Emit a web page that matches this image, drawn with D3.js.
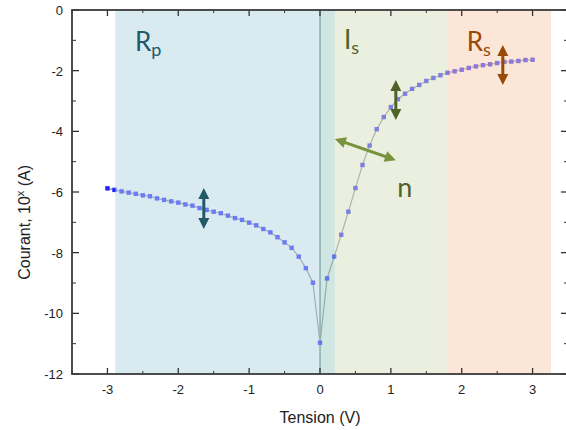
<!DOCTYPE html>
<html><head><meta charset="utf-8">
<script src="https://cdn.jsdelivr.net/npm/d3@7"></script>
<style>body{margin:0;background:#fff}svg{display:block}</style>
</head><body>
<svg id="c" width="566" height="430"></svg>
<script>
// ---- data ----
const tension = [-3.0,-2.9,-2.8,-2.7,-2.6,-2.5,-2.4,-2.3,-2.2,-2.1,-2.0,-1.9,-1.8,-1.7,-1.6,-1.5,-1.4,-1.3,-1.2,-1.1,-1.0,-0.9,-0.8,-0.7,-0.6,-0.5,-0.4,-0.3,-0.2,-0.1,0.0,0.1,0.2,0.3,0.4,0.5,0.6,0.7,0.8,0.9,1.0,1.1,1.2,1.3,1.4,1.5,1.6,1.7,1.8,1.9,2.0,2.1,2.2,2.3,2.4,2.5,2.6,2.7,2.8,2.9,3.0];
const courant = [-5.88,-5.93,-5.98,-6.02,-6.06,-6.11,-6.14,-6.21,-6.26,-6.31,-6.35,-6.41,-6.45,-6.53,-6.59,-6.65,-6.70,-6.78,-6.86,-6.92,-7.01,-7.10,-7.22,-7.33,-7.49,-7.66,-7.84,-8.13,-8.51,-8.99,-10.97,-8.85,-8.13,-7.41,-6.65,-5.87,-5.11,-4.47,-3.93,-3.53,-3.20,-2.94,-2.76,-2.60,-2.47,-2.34,-2.24,-2.15,-2.07,-2.02,-1.97,-1.91,-1.86,-1.82,-1.79,-1.75,-1.71,-1.70,-1.68,-1.65,-1.64];
const xTicks = [-3,-2,-1,0,1,2,3];
const yTicks = [0,-2,-4,-6,-8,-10,-12];
const regionNames = ["Rp","overlap","Is","Rs"];
const regionStart = [-2.89, 0.0, 0.21, 1.79];
const regionEnd   = [0.0, 0.21, 1.79, 3.26];

// ---- layout ----
const svg = d3.select("#c");
const L = 72, R = 568, T = 10, B = 374;
const x = d3.scaleLinear().domain([-3.5,3.5]).range([L,R]);
const y = d3.scaleLinear().domain([0,-12]).range([T,B]);

const regionColor = {Rp:"#b5d5e3", overlap:"#a1cdc7", Is:"#d7dfbf", Rs:"#f9cdb1"};

// zero line
svg.append("line").attr("x1",x(0)).attr("x2",x(0)).attr("y1",T).attr("y2",B)
  .attr("stroke","#8fa3ad").attr("stroke-width",2);

// data line
const pts = tension.map((v,i)=>[v,courant[i]]);
svg.append("path").datum(pts)
  .attr("d", d3.line().x(d=>x(d[0])).y(d=>y(d[1])))
  .attr("fill","none").attr("stroke","#8a8a8a").attr("stroke-width",1.2);
svg.append("g").selectAll("rect").data(pts).join("rect")
  .attr("x",d=>x(d[0])-2.2).attr("y",d=>y(d[1])-2.2)
  .attr("width",4.4).attr("height",4.4).attr("fill","#2020ff");

// translucent regions on top
svg.append("g").selectAll("rect").data(regionNames).join("rect")
  .attr("x",(d,i)=>x(regionStart[i])).attr("y",T)
  .attr("width",(d,i)=>x(regionEnd[i])-x(regionStart[i])).attr("height",B-T)
  .attr("fill",d=>regionColor[d]).attr("fill-opacity",0.5);

// ---- axes ----
const ax = svg.append("g").attr("stroke","#333");
const minorX = [-3.5,-2.5,-1.5,-0.5,0.5,1.5,2.5,3.5];
const minorY = [-1,-3,-5,-7,-9,-11];
xTicks.forEach(t=>{
  ax.append("line").attr("x1",x(t)).attr("x2",x(t)).attr("y1",B).attr("y2",B-6).attr("stroke-width",1.3);
  ax.append("line").attr("x1",x(t)).attr("x2",x(t)).attr("y1",T).attr("y2",T+6).attr("stroke-width",1.3);
});
minorX.forEach(t=>{
  ax.append("line").attr("x1",x(t)).attr("x2",x(t)).attr("y1",B).attr("y2",B-3).attr("stroke-width",1);
  ax.append("line").attr("x1",x(t)).attr("x2",x(t)).attr("y1",T).attr("y2",T+3).attr("stroke-width",1);
});
yTicks.forEach(t=>{
  ax.append("line").attr("x1",L).attr("x2",L+7).attr("y1",y(t)).attr("y2",y(t)).attr("stroke-width",1.3);
  ax.append("line").attr("x1",R).attr("x2",R-7).attr("y1",y(t)).attr("y2",y(t)).attr("stroke-width",1.3);
});
minorY.forEach(t=>{
  ax.append("line").attr("x1",L).attr("x2",L+4).attr("y1",y(t)).attr("y2",y(t)).attr("stroke-width",1);
  ax.append("line").attr("x1",R).attr("x2",R-4).attr("y1",y(t)).attr("y2",y(t)).attr("stroke-width",1);
});
ax.append("rect").attr("x",L).attr("y",T).attr("width",R-L).attr("height",B-T)
  .attr("fill","none").attr("stroke","#3a3a3a").attr("stroke-width",1.8);

const font = "Liberation Sans, Arial, sans-serif";
svg.append("g").selectAll("text").data(xTicks).join("text")
  .attr("x",d=>x(d)).attr("y",B+20).attr("text-anchor","middle")
  .attr("font-family",font).attr("font-size",13).attr("fill","#222")
  .text(d=>d);
svg.append("g").selectAll("text").data(yTicks).join("text")
  .attr("x",L-9).attr("y",d=>y(d)+5).attr("text-anchor","end")
  .attr("font-family",font).attr("font-size",13).attr("fill","#222")
  .text(d=>d);
svg.append("text").attr("x",x(0)).attr("y",B+49).attr("text-anchor","middle")
  .attr("font-family",font).attr("font-size",16).attr("fill","#222").text("Tension (V)");
const yl = svg.append("text").attr("transform",`translate(30,${y(-7)}) rotate(-90)`)
  .attr("text-anchor","middle").attr("font-family",font).attr("font-size",16).attr("fill","#222");
yl.append("tspan").text("Courant, 10");
yl.append("tspan").attr("dy",-6).attr("font-size",11).text("x");
yl.append("tspan").attr("dy",6).text(" (A)");

// ---- annotations ----
const arrows = [
  {v1:-1.64, c1:-5.87, v2:-1.64, c2:-7.22, color:"#215968"},
  {v1:1.07, c1:-2.31, v2:1.07, c2:-3.63, color:"#4f6228"},
  {v1:2.58, c1:-1.15, v2:2.58, c2:-2.47, color:"#984807"},
  {v1:0.21, c1:-4.25, v2:1.07, c2:-4.95, color:"#77933c"}
];
function head(g, xt, yt, ang, color, len, wid){
  const p = [[0,0],[-len,-wid/2],[-len,wid/2]].map(([a,b])=>[
    xt + a*Math.cos(ang) - b*Math.sin(ang), yt + a*Math.sin(ang) + b*Math.cos(ang)]);
  g.append("path").attr("d","M"+p.join("L")+"Z").attr("fill",color);
}
arrows.forEach(a=>{
  const g = svg.append("g");
  const x1=x(a.v1), y1=y(a.c1), x2=x(a.v2), y2=y(a.c2);
  const ang = Math.atan2(y2-y1, x2-x1);
  const len = 11, wid = 11;
  g.append("line").attr("x1",x1+Math.cos(ang)*len*0.8).attr("y1",y1+Math.sin(ang)*len*0.8)
    .attr("x2",x2-Math.cos(ang)*len*0.8).attr("y2",y2-Math.sin(ang)*len*0.8)
    .attr("stroke",a.color).attr("stroke-width",3);
  head(g,x2,y2,ang,a.color,len,wid);
  head(g,x1,y1,ang+Math.PI,a.color,len,wid);
});

const lf = "Lato, 'Open Sans', sans-serif";
const labels = [
  {v:-2.61, c:-1.35, main:"R", sub:"p", color:"#215968"},
  {v:0.34, c:-1.30, main:"I", sub:"s", color:"#4f6228"},
  {v:2.07, c:-1.35, main:"R", sub:"s", color:"#984807"}
];
labels.forEach(l=>{
  const t = svg.append("text").attr("x",x(l.v)).attr("y",y(l.c))
    .attr("font-family",lf).attr("font-size",26).attr("fill",l.color);
  t.append("tspan").text(l.main);
  t.append("tspan").attr("dy",5).attr("font-size",18).text(l.sub);
});
svg.append("text").attr("x",x(1.09)).attr("y",y(-6.17))
  .attr("font-family",lf).attr("font-size",27).attr("fill","#4f6228").text("n");
</script>
</body></html>
